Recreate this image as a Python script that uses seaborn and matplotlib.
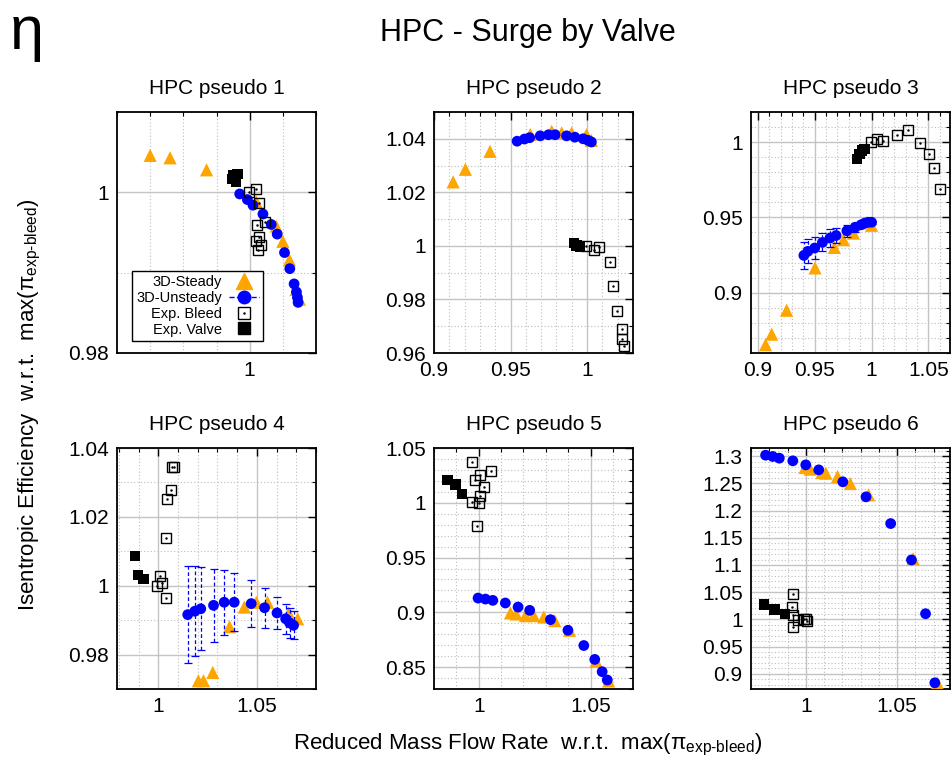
import matplotlib
matplotlib.use('Agg')
import matplotlib.pyplot as plt
import seaborn as sns
from matplotlib.lines import Line2D
from matplotlib.ticker import MultipleLocator, FuncFormatter

# data (x = reduced mass flow, y = isentropic efficiency)
p1_steady_x = [0.970, 0.976, 0.987, 1.002, 1.008, 1.010, 1.012, 1.014, 1.015]
p1_steady_y = [1.0046, 1.0043, 1.0028, 0.9988, 0.9958, 0.9939, 0.9916, 0.9879, 0.9867]
p1_unsteady_x = [0.9970, 0.9993, 1.0010, 1.0040, 1.0065, 1.0083, 1.0105, 1.0121, 1.0134, 1.0141, 1.0144, 1.0146]
p1_unsteady_y = [0.9998, 0.9991, 0.9984, 0.9973, 0.9960, 0.9948, 0.9925, 0.9905, 0.9886, 0.9876, 0.9869, 0.9863]
p1_bleed_x = [0.9998, 1.0018, 1.0028, 1.0045, 1.0023, 1.0028, 1.0020, 1.0033, 1.0026]
p1_bleed_y = [1.0000, 1.0004, 0.9987, 0.9963, 0.9959, 0.9944, 0.9939, 0.9934, 0.9928]
p1_valve_x = [0.9948, 0.9950, 0.9958, 0.9963]
p1_valve_y = [1.0017, 1.0021, 1.0013, 1.0023]

p2_steady_x = [0.9125, 0.9205, 0.9366, 0.9629, 0.9769, 0.9834, 0.9899, 0.9996, 1.0028]
p2_steady_y = [1.0239, 1.0286, 1.0353, 1.0416, 1.0428, 1.0422, 1.0422, 1.0415, 1.0394]
p2_unsteady_x = [0.9543, 0.9591, 0.9625, 0.9694, 0.9748, 0.9791, 0.9866, 0.9920, 0.9974, 1.0006, 1.0028]
p2_unsteady_y = [1.0391, 1.0399, 1.0404, 1.0411, 1.0415, 1.0415, 1.0411, 1.0406, 1.0400, 1.0394, 1.0388]
p2_bleed_x = [0.9996, 1.0043, 1.0078, 1.0147, 1.0172, 1.0194, 1.0226, 1.0228, 1.0241]
p2_bleed_y = [1.0000, 0.9985, 0.9995, 0.9939, 0.9849, 0.9756, 0.9690, 0.9654, 0.9626]
p2_valve_x = [0.9914, 0.9931, 0.9953]
p2_valve_y = [1.0010, 1.0002, 0.9998]

p3_steady_x = [0.9068, 0.9122, 0.9253, 0.9503, 0.9673, 0.9753, 0.9842, 1.0000]
p3_steady_y = [0.8655, 0.8725, 0.8884, 0.9165, 0.9301, 0.9352, 0.9396, 0.9448]
p3_unsteady_x = [0.9405, 0.9440, 0.9500, 0.9568, 0.9634, 0.9688, 0.9783, 0.9857, 0.9908, 0.9940, 0.9970, 1.0000]
p3_unsteady_y = [0.9248, 0.9275, 0.9297, 0.9334, 0.9363, 0.9380, 0.9411, 0.9435, 0.9451, 0.9462, 0.9468, 0.9468]
p3_unsteady_err = [0.009, 0.008, 0.007, 0.006, 0.006, 0.005, 0.004, 0.003, 0.002, 0.002, 0.001, 0.001]
p3_bleed_x = [0.9994, 1.0047, 1.0103, 1.0223, 1.0317, 1.0426, 1.0509, 1.0553, 1.0602]
p3_bleed_y = [1.0000, 1.0018, 1.0007, 1.0049, 1.0082, 0.9996, 0.9919, 0.9825, 0.9689]
p3_valve_x = [0.9872, 0.9893, 0.9917, 0.9938]
p3_valve_y = [0.9890, 0.9919, 0.9945, 0.9956]

p4_steady_x = [1.0203, 1.0229, 1.0276, 1.0361, 1.0436, 1.0497, 1.0554, 1.0661, 1.0707]
p4_steady_y = [0.9724, 0.9724, 0.9748, 0.9881, 0.9938, 0.9952, 0.9952, 0.9921, 0.9904]
p4_unsteady_x = [1.0149, 1.0185, 1.0215, 1.0280, 1.0334, 1.0385, 1.0471, 1.0539, 1.0602, 1.0646, 1.0666, 1.0686]
p4_unsteady_y = [0.9916, 0.9926, 0.9933, 0.9943, 0.9952, 0.9952, 0.9948, 0.9936, 0.9921, 0.9904, 0.9892, 0.9885]
p4_unsteady_err = [0.0141, 0.0130, 0.0121, 0.0107, 0.0095, 0.0084, 0.0069, 0.0058, 0.0047, 0.0044, 0.0043, 0.0041]
p4_bleed_x = [1.0068, 1.0080, 1.0063, 1.0042, 1.0037, 1.0008, 1.0017, 0.9995, 1.0039]
p4_bleed_y = [1.0346, 1.0346, 1.0279, 1.0253, 1.0140, 1.0027, 1.0008, 1.0000, 0.9964]
p4_valve_x = [0.9881, 0.9898, 0.9924]
p4_valve_y = [1.0087, 1.0032, 1.0019]

p5_steady_x = [1.0142, 1.0167, 1.0209, 1.0246, 1.0291, 1.0340, 1.0406, 1.0525, 1.0581]
p5_steady_y = [0.8994, 0.8985, 0.8970, 0.8970, 0.8958, 0.8924, 0.8836, 0.8555, 0.8373]
p5_unsteady_x = [0.9997, 1.0030, 1.0063, 1.0119, 1.0176, 1.0228, 1.0321, 1.0399, 1.0470, 1.0519, 1.0552, 1.0575]
p5_unsteady_y = [0.9130, 0.9121, 0.9109, 0.9085, 0.9048, 0.9018, 0.8933, 0.8836, 0.8697, 0.8570, 0.8458, 0.8382]
p5_bleed_x = [0.9970, 0.9985, 1.0007, 1.0022, 1.0055, 1.0007, 0.9970, 1.0000, 0.9993]
p5_bleed_y = [1.0370, 1.0206, 1.0258, 1.0145, 1.0288, 1.0064, 1.0009, 1.0000, 0.9788]
p5_valve_x = [0.9861, 0.9896, 0.9925]
p5_valve_y = [1.0206, 1.0167, 1.0079]

p6_steady_x = [0.9996, 1.0024, 1.0088, 1.0110, 1.0174, 1.0244, 1.0344, 1.0588, 1.0720]
p6_steady_y = [1.2791, 1.2761, 1.2699, 1.2687, 1.2626, 1.2497, 1.2288, 1.1117, 0.8834]
p6_unsteady_x = [0.9780, 0.9819, 0.9855, 0.9929, 1.0000, 1.0071, 1.0203, 1.0330, 1.0465, 1.0579, 1.0656, 1.0707]
p6_unsteady_y = [1.3018, 1.2994, 1.2963, 1.2914, 1.2840, 1.2748, 1.2528, 1.2252, 1.1761, 1.1092, 1.0104, 0.8834]
p6_bleed_x = [0.9929, 0.9925, 0.9932, 0.9929, 0.9960, 0.9991, 1.0000, 1.0005]
p6_bleed_y = [1.0472, 1.0233, 1.0074, 0.9865, 0.9982, 1.0000, 1.0012, 0.9963]
p6_valve_x = [0.9773, 0.9828, 0.9886]
p6_valve_y = [1.0276, 1.0184, 1.0104]

titles = ['HPC pseudo 1', 'HPC pseudo 2', 'HPC pseudo 3',
          'HPC pseudo 4', 'HPC pseudo 5', 'HPC pseudo 6']
legend_labels = ['3D-Steady', '3D-Unsteady', 'Exp. Bleed', 'Exp. Valve']

panels = [
    (p1_steady_x, p1_steady_y, p1_unsteady_x, p1_unsteady_y, None, p1_bleed_x, p1_bleed_y, p1_valve_x, p1_valve_y),
    (p2_steady_x, p2_steady_y, p2_unsteady_x, p2_unsteady_y, None, p2_bleed_x, p2_bleed_y, p2_valve_x, p2_valve_y),
    (p3_steady_x, p3_steady_y, p3_unsteady_x, p3_unsteady_y, p3_unsteady_err, p3_bleed_x, p3_bleed_y, p3_valve_x, p3_valve_y),
    (p4_steady_x, p4_steady_y, p4_unsteady_x, p4_unsteady_y, p4_unsteady_err, p4_bleed_x, p4_bleed_y, p4_valve_x, p4_valve_y),
    (p5_steady_x, p5_steady_y, p5_unsteady_x, p5_unsteady_y, None, p5_bleed_x, p5_bleed_y, p5_valve_x, p5_valve_y),
    (p6_steady_x, p6_steady_y, p6_unsteady_x, p6_unsteady_y, None, p6_bleed_x, p6_bleed_y, p6_valve_x, p6_valve_y),
]

# axis ranges and major tick steps per panel
xlims = [(0.96, 1.02), (0.9, 1.03), (0.894, 1.069), (0.979, 1.08), (0.98, 1.069), (0.97, 1.079)]
ylims = [(0.98, 1.01), (0.96, 1.05), (0.86, 1.02), (0.97, 1.04), (0.83, 1.05), (0.872, 1.315)]
ysteps = [0.02, 0.02, 0.05, 0.02, 0.05, 0.05]

sns.set_style('white')
plt.rcParams['font.family'] = ['Liberation Sans', 'DejaVu Sans']
plt.rcParams['mathtext.fontset'] = 'custom'
plt.rcParams['mathtext.rm'] = 'Liberation Sans'
plt.rcParams['mathtext.it'] = 'Liberation Sans:italic'
plt.rcParams['text.color'] = 'black'
plt.rcParams['axes.titlecolor'] = 'black'

W, H = 951, 772
fig = plt.figure(figsize=(W / 100, H / 100), dpi=100)

col_left = [117, 434, 751]
row_top = [112, 448]
ax_w, ax_h = 199, 241

fmt = FuncFormatter(lambda v, p: f'{round(v, 4):g}')

for i, data in enumerate(panels):
    sx, sy, ux, uy, uerr, bx, by, vx, vy = data
    r, c = divmod(i, 3)
    ax = fig.add_axes([col_left[c] / W, 1 - (row_top[r] + ax_h) / H, ax_w / W, ax_h / H])

    # grid like gnuplot: solid majors, dotted minors
    ax.xaxis.set_major_locator(MultipleLocator(0.05))
    ax.xaxis.set_minor_locator(MultipleLocator(0.01))
    ax.yaxis.set_major_locator(MultipleLocator(ysteps[i]))
    ax.yaxis.set_minor_locator(MultipleLocator(0.01))
    ax.xaxis.set_major_formatter(fmt)
    ax.yaxis.set_major_formatter(fmt)
    ax.grid(which='major', color='#c4c4c4', lw=1.0, ls='-', zorder=0)
    ax.grid(which='minor', color='#bdbdbd', lw=0.8, ls=(0, (1, 2)), zorder=0)
    ax.set_axisbelow(True)

    sns.scatterplot(x=sx, y=sy, ax=ax, marker='^', color='orange', s=90,
                    edgecolor='none', linewidth=0, zorder=3)
    if uerr is not None:
        eb = ax.errorbar(ux, uy, yerr=uerr, fmt='none', ecolor='blue',
                         elinewidth=0.9, capsize=3, capthick=0.9, zorder=3)
        eb[2][0].set_linestyle((0, (3, 2)))
    sns.scatterplot(x=ux, y=uy, ax=ax, marker='o', color='blue', s=60,
                    edgecolor='none', linewidth=0, zorder=4)
    ax.plot(bx, by, 's', mfc='none', mec='black', ms=7, mew=1.0, zorder=5)
    ax.plot(bx, by, '.', color='black', ms=1.5, zorder=5)
    sns.scatterplot(x=vx, y=vy, ax=ax, marker='s', color='black', s=55,
                    edgecolor='none', linewidth=0, zorder=6)

    ax.set_xlim(*xlims[i])
    ax.set_ylim(*ylims[i])
    ax.set_xlabel('')
    ax.set_ylabel('')
    ax.tick_params(which='both', direction='in', top=True, right=True,
                   labelsize=15, colors='black', labelcolor='black')
    ax.tick_params(which='major', length=6, width=1.0, pad=6)
    ax.tick_params(which='minor', length=3, width=0.8)
    for sp in ax.spines.values():
        sp.set_color('black')
        sp.set_linewidth(1.3)
    ax.set_title(titles[i], fontsize=15, pad=13, color='black')

    if i == 0:
        handles = [
            Line2D([], [], ls='none', marker='^', color='orange', ms=11),
            Line2D([], [], ls='--', marker='o', color='blue', ms=9, lw=1),
            (Line2D([], [], ls='none', marker='s', mfc='none', mec='black', ms=8, mew=1),
             Line2D([], [], ls='none', marker='.', color='black', ms=1.5)),
            Line2D([], [], ls='none', marker='s', color='black', ms=9),
        ]
        leg = ax.legend(handles, legend_labels, markerfirst=False, loc='lower left',
                        bbox_to_anchor=(0.075, 0.05), frameon=True, fancybox=False,
                        edgecolor='black', framealpha=1, fontsize=10.5,
                        handlelength=2.0, borderpad=0.3, labelspacing=0.12,
                        handletextpad=0.5, borderaxespad=0)
        leg.get_frame().set_linewidth(1.0)
        leg.set_zorder(10)

fig.text(528 / W, 1 - 33 / H, 'HPC - Surge by Valve', fontsize=22, ha='center', va='center')
fig.text(27 / W, 1 - 33 / H, 'η', fontsize=44, ha='center', va='center')
fig.text(528 / W, 1 - 745 / H,
         r'Reduced Mass Flow Rate  w.r.t.  max(π$_{\text{exp-bleed}}$)',
         fontsize=16, ha='center', va='center')
fig.text(30 / W, 1 - 405 / H,
         r'Isentropic Efficiency  w.r.t.  max(π$_{\text{exp-bleed}}$)',
         fontsize=16, ha='center', va='center', rotation=90)

fig.savefig('out.png', dpi=100)
